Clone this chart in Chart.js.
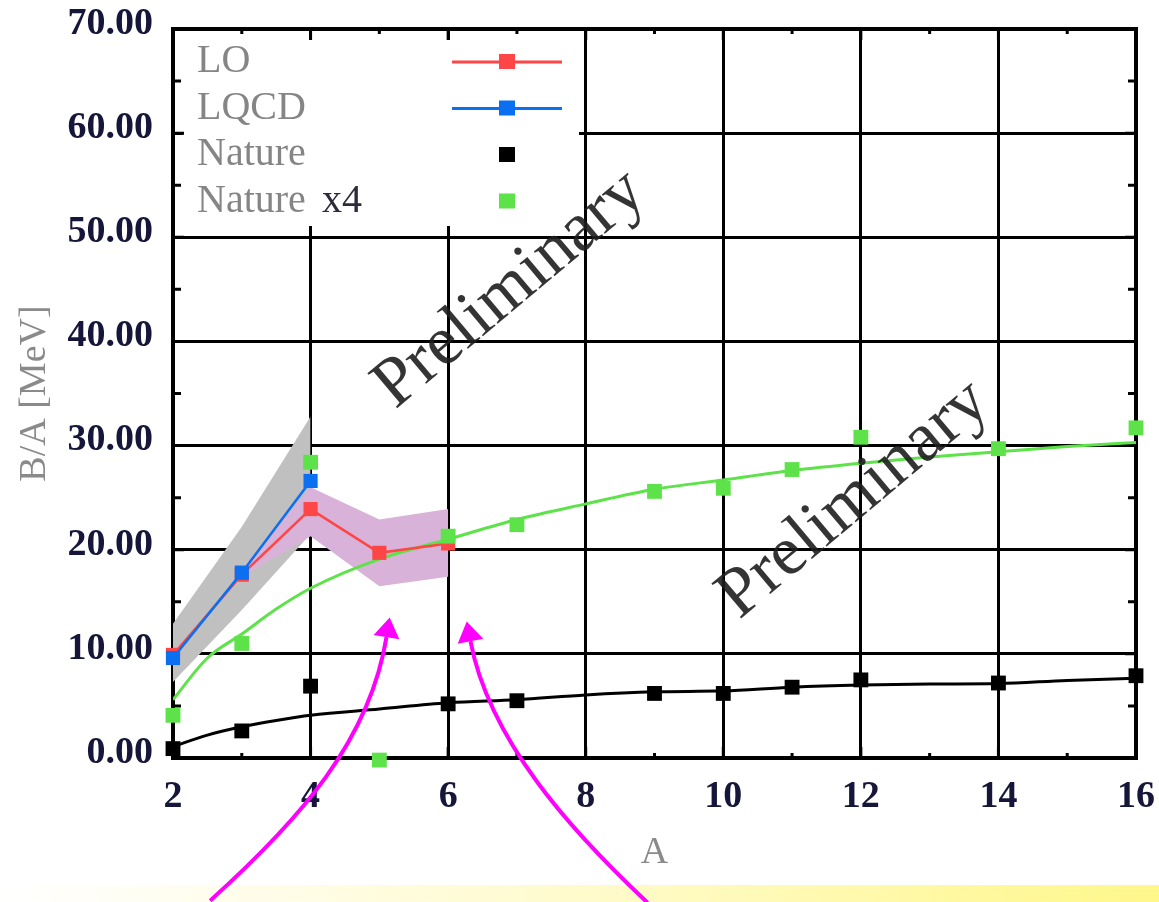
<!DOCTYPE html>
<html>
<head>
<meta charset="utf-8">
<script src="https://cdn.jsdelivr.net/npm/chart.js@4.4.1/dist/chart.umd.min.js"></script>
<style>
    html, body { margin: 0; padding: 0; background: #fff; }
    #wrap { position: relative; width: 1159px; height: 902px; overflow: hidden; }
    #strip { position: absolute; left: 0; right: 0; top: 885px; height: 17px;
             background: linear-gradient(to right, #ffffff 0%, #fffbd2 45%, #fff78a 100%); }
    #bindingChart { position: absolute; left: 0; top: 0; }
</style>
</head>
<body>
<div id="wrap">
    <div id="strip"></div>
    <canvas id="bindingChart" width="1159" height="902"></canvas>
</div>
<script>
// 數據 (B/A in MeV)
const legendLabels = ['LO', 'LQCD', 'Nature', 'Nature x4'];
const xTicks = [2, 4, 6, 8, 10, 12, 14, 16];
const yTicks = [0, 10, 20, 30, 40, 50, 60, 70];

const loA = [2, 3, 4, 5, 6];
const loBA = [9.9, 17.6, 23.9, 19.7, 20.6];
const loBandA = [3, 4, 5, 6];
const loBandLow = [17.4, 21.3, 16.5, 17.4];
const loBandHigh = [18.2, 26.0, 22.9, 23.9];

const lqcdA = [2, 3, 4];
const lqcdBA = [9.6, 17.8, 26.6];
const lqcdBandLow = [7.3, 14.2, 21.5];
const lqcdBandHigh = [12.9, 22.2, 32.8];

const natureA = [2, 3, 4, 6, 7, 9, 10, 11, 12, 14, 16];
const natureBA = [0.9, 2.6, 6.9, 5.2, 5.5, 6.2, 6.2, 6.8, 7.5, 7.2, 7.9];
const nature4A = [2, 3, 4, 5, 6, 7, 9, 10, 11, 12, 14, 16];
const nature4BA = [4.1, 11.0, 28.4, -0.2, 21.3, 22.4, 25.6, 25.9, 27.7, 30.8, 29.7, 31.7];

const fitA = [2, 2.5, 3, 3.5, 4, 5, 6, 7, 8, 9, 10, 11, 12, 13, 14, 15, 16];
const fitNature = [1.1, 2.2, 3.0, 3.6, 4.1, 4.7, 5.3, 5.6, 6.05, 6.35, 6.45, 6.8, 7.0, 7.1, 7.15, 7.45, 7.65];
const fitNature4 = [5.6, 9.6, 11.9, 14.3, 16.3, 19.1, 21.0, 22.9, 24.4, 25.8, 26.7, 27.6, 28.3, 28.9, 29.4, 29.9, 30.3];

const COLORS = {
    lo: '#ff4646',
    lqcd: '#0a6ff0',
    nature: '#000000',
    nature4: '#5ee24a',
    loBand: '#d9b2d9',
    lqcdBand: '#c0c0c0'
};

function pts(xs, ys) {
    return xs.map((x, i) => ({ x: x, y: ys[i] }));
}

// 圖例、邊框、小刻度、浮水印、箭頭
const decorPlugin = {
    id: 'decor',
    beforeDatasetsDraw(chart) {
        const ctx = chart.ctx;
        const a = chart.chartArea;
        const xs = chart.scales.x;
        const ys = chart.scales.y;

        // 圖例底框 (蓋住格線)
        ctx.save();
        ctx.fillStyle = '#fff';
        ctx.fillRect(a.left + 10, a.top + 11, 396, 186);

        // 外框
        ctx.strokeStyle = '#000';
        ctx.lineWidth = 4;
        ctx.strokeRect(a.left, a.top, a.right - a.left, a.bottom - a.top);

        // 刻度
        ctx.lineWidth = 3;
        ctx.beginPath();
        for (let v = 2; v <= 16; v += 1) {
            const px = xs.getPixelForValue(v);
            const len = v % 2 === 0 ? 11 : 5;
            ctx.moveTo(px, a.top); ctx.lineTo(px, a.top + len);
            ctx.moveTo(px, a.bottom); ctx.lineTo(px, a.bottom - len);
        }
        for (let v = 0; v <= 70; v += 5) {
            const py = ys.getPixelForValue(v);
            const len = v % 10 === 0 ? 11 : 8;
            ctx.moveTo(a.left, py); ctx.lineTo(a.left + len, py);
            ctx.moveTo(a.right, py); ctx.lineTo(a.right - len, py);
        }
        ctx.stroke();

        // 圖例內容
        const rows = [
            { color: COLORS.lo, line: true },
            { color: COLORS.lqcd, line: true },
            { color: COLORS.nature, line: false },
            { color: COLORS.nature4, line: false }
        ];
        ctx.font = '40px "Liberation Serif"';
        ctx.textBaseline = 'alphabetic';
        ctx.textAlign = 'left';
        rows.forEach((r, i) => {
            const baseY = a.top + 43 + i * 46.5;
            const symY = baseY - 10;
            if (i === 3) {
                ctx.fillStyle = '#858585';
                ctx.fillText('Nature', a.left + 24, baseY);
                ctx.fillStyle = '#2b2b3a';
                ctx.fillText('x4', a.left + 24 + 125, baseY);
            } else {
                ctx.fillStyle = '#858585';
                ctx.fillText(legendLabels[i], a.left + 24, baseY);
            }
            if (r.line) {
                ctx.strokeStyle = r.color;
                ctx.lineWidth = 3;
                ctx.beginPath();
                ctx.moveTo(a.left + 279, symY);
                ctx.lineTo(a.left + 389, symY);
                ctx.stroke();
            }
            ctx.fillStyle = r.color;
            ctx.fillRect(a.left + 334 - 8, symY - 8, 16, 15);
        });
        ctx.restore();
    },
    afterDatasetsDraw(chart) {
        const ctx = chart.ctx;
        const xs = chart.scales.x;
        const ys = chart.scales.y;
        const px = (v) => xs.getPixelForValue(v);
        const py = (v) => ys.getPixelForValue(v);

        // Preliminary 浮水印
        ctx.save();
        ctx.fillStyle = 'rgba(30,30,30,0.9)';
        ctx.font = '70px "Liberation Serif"';
        ctx.textAlign = 'center';
        ctx.textBaseline = 'middle';
        [[6.9, 45.0], [11.9, 24.8]].forEach(([xv, yv]) => {
            ctx.save();
            ctx.translate(px(xv), py(yv));
            ctx.rotate(-40 * Math.PI / 180);
            ctx.fillText('Preliminary', 0, 0);
            ctx.restore();
        });
        ctx.restore();
    },
    afterDraw(chart) {
        const ctx = chart.ctx;
        const xs = chart.scales.x;
        const ys = chart.scales.y;
        const P = (xv, yv) => [xs.getPixelForValue(xv), ys.getPixelForValue(yv)];

        // 洋紅色箭頭
        const arrows = [
            [P(2.54, -13.7), P(3.85, -5.9), P(4.86, 1.7), P(5.15, 13.5)],
            [P(8.9, -13.9), P(7.77, -6.9), P(6.6, 1.7), P(6.27, 13.1)]
        ];
        ctx.save();
        ctx.strokeStyle = '#ff00ff';
        ctx.fillStyle = '#ff00ff';
        ctx.lineWidth = 4;
        arrows.forEach(([p0, p1, p2, p3]) => {
            const ang = Math.atan2(p3[1] - p2[1], p3[0] - p2[0]);
            const headLen = 20;
            const bx = p3[0] - headLen * Math.cos(ang);
            const by = p3[1] - headLen * Math.sin(ang);
            ctx.beginPath();
            ctx.moveTo(p0[0], p0[1]);
            ctx.bezierCurveTo(p1[0], p1[1], p2[0], p2[1], bx, by);
            ctx.stroke();
            ctx.beginPath();
            ctx.moveTo(p3[0], p3[1]);
            ctx.lineTo(bx + 13 * Math.sin(ang), by - 13 * Math.cos(ang));
            ctx.lineTo(bx - 13 * Math.sin(ang), by + 13 * Math.cos(ang));
            ctx.closePath();
            ctx.fill();
        });
        ctx.restore();
    }
};

const pointStyle = {
    showLine: false,
    pointStyle: 'rect',
    pointRadius: 10.5,
    pointHoverRadius: 10.5,
    pointBorderWidth: 0,
    clip: false
};

const chartData = {
    datasets: [
        { label: 'LQCD', data: pts(lqcdA, lqcdBA), borderColor: COLORS.lqcd, backgroundColor: COLORS.lqcd,
          borderWidth: 2.5, pointStyle: 'rect', pointRadius: 10, pointBorderWidth: 0, clip: false, order: 1 },
        { label: 'LO', data: pts(loA, loBA), borderColor: COLORS.lo, backgroundColor: COLORS.lo,
          borderWidth: 2.5, pointStyle: 'rect', pointRadius: 10, pointBorderWidth: 0, clip: false, order: 2 },
        Object.assign({ label: 'Nature x4', data: pts(nature4A, nature4BA), backgroundColor: COLORS.nature4,
          borderColor: COLORS.nature4, order: 0 }, pointStyle),
        Object.assign({ label: 'Nature', data: pts(natureA, natureBA), backgroundColor: COLORS.nature,
          borderColor: COLORS.nature, order: 0 }, pointStyle),
        { label: 'fit x4', data: pts(fitA, fitNature4), borderColor: COLORS.nature4, borderWidth: 3,
          pointRadius: 0, cubicInterpolationMode: 'monotone', order: 4 },
        { label: 'fit', data: pts(fitA, fitNature), borderColor: COLORS.nature, borderWidth: 3,
          pointRadius: 0, cubicInterpolationMode: 'monotone', order: 5 },
        { label: 'LO low', data: pts(loBandA, loBandLow), borderWidth: 0, pointRadius: 0, order: 6 },
        { label: 'LO high', data: pts(loBandA, loBandHigh), borderWidth: 0, pointRadius: 0,
          backgroundColor: COLORS.loBand, fill: '-1', order: 6 },
        { label: 'LQCD low', data: pts(lqcdA, lqcdBandLow), borderWidth: 0, pointRadius: 0, order: 7 },
        { label: 'LQCD high', data: pts(lqcdA, lqcdBandHigh), borderWidth: 0, pointRadius: 0,
          backgroundColor: COLORS.lqcdBand, fill: '-1', order: 7 }
    ]
};

const tickFont = { family: 'Liberation Serif', size: 38, weight: 'bold' };
const titleFont = { family: 'Liberation Serif', size: 38 };

const config = {
    type: 'line',
    data: chartData,
    options: {
        responsive: false,
        animation: false,
        layout: { padding: 0 },
        plugins: {
            legend: { display: false },
            tooltip: { enabled: false }
        },
        scales: {
            x: {
                type: 'linear',
                min: 2,
                max: 16,
                afterBuildTicks: (scale) => { scale.ticks = xTicks.map(v => ({ value: v })); },
                afterFit: (scale) => {
                    scale.height = 144;
                    scale.paddingLeft = 0;
                    scale.paddingRight = 23;
                },
                grid: { color: '#000', lineWidth: 3, drawTicks: false },
                border: { display: true, color: '#000', width: 4 },
                ticks: { font: tickFont, color: '#16163a', padding: 16, maxRotation: 0,
                         callback: (v) => String(v) },
                title: { display: true, text: 'A', font: titleFont, color: '#8a8a8a',
                         padding: { top: 0, bottom: 26 } }
            },
            y: {
                min: 0,
                max: 70,
                afterBuildTicks: (scale) => { scale.ticks = yTicks.map(v => ({ value: v })); },
                afterFit: (scale) => {
                    scale.width = 173;
                    scale.paddingTop = 29;
                    scale.paddingBottom = 0;
                },
                grid: { color: '#000', lineWidth: 3, drawTicks: false },
                border: { display: true, color: '#000', width: 4 },
                ticks: { font: tickFont, color: '#16163a', padding: 20, labelOffset: -5,
                         callback: (v) => v.toFixed(2) },
                title: { display: true, text: 'B/A [MeV]', font: titleFont, color: '#8a8a8a',
                         padding: { top: 12, bottom: 0 } }
            }
        }
    },
    plugins: [decorPlugin]
};

new Chart(document.getElementById('bindingChart'), config);
</script>
</body>
</html>
